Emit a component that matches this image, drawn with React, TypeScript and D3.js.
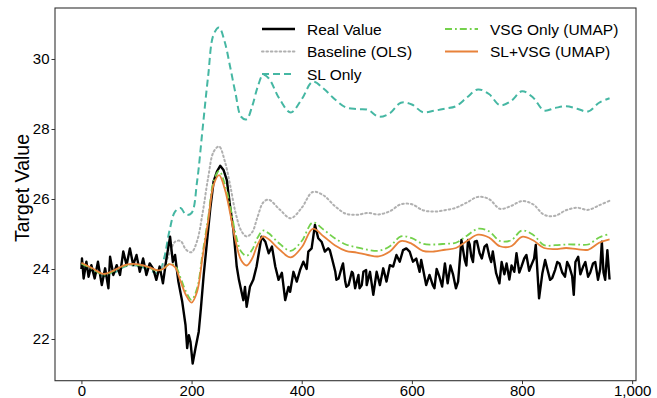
import React, { useEffect, useRef } from "react";
import * as d3 from "d3";

// smooth model outputs at these x positions
const gridX = [0, 20, 40, 60, 80, 100, 120, 140, 150, 160, 170, 180, 190, 200, 210, 220, 230, 240, 250, 260, 270, 280, 290, 300, 310, 320, 330, 340, 360, 380, 400, 420, 440, 460, 480, 500, 520, 540, 560, 580, 600, 620, 640, 660, 680, 700, 720, 740, 760, 780, 800, 820, 840, 860, 880, 900, 920, 940, 959];

const olsY = [24.15, 24.0, 23.85, 23.96, 24.1, 24.12, 24.05, 23.97, 24.1, 24.45, 24.78, 24.8, 24.55, 24.48, 24.8, 25.6, 26.6, 27.35, 27.5, 27.1, 26.4, 25.6, 25.1, 24.93, 25.05, 25.5, 25.9, 25.98, 25.7, 25.45, 25.75, 26.2, 26.1, 25.8, 25.58, 25.55, 25.6, 25.56, 25.65, 25.85, 25.85, 25.68, 25.64, 25.68, 25.75, 25.9, 26.06, 26.0, 25.72, 25.8, 25.94, 25.85, 25.55, 25.52, 25.68, 25.75, 25.69, 25.82, 25.95];

const slY = [24.12, 23.95, 23.8, 23.9, 24.08, 24.1, 24.0, 23.88, 24.3, 25.1, 25.64, 25.74, 25.55, 25.6, 26.5, 28.0, 29.5, 30.7, 30.9, 30.5, 29.78, 29.0, 28.35, 28.28, 28.65, 29.2, 29.55, 29.45, 28.85, 28.47, 28.85, 29.35, 29.15, 28.85, 28.62, 28.57, 28.55, 28.35, 28.45, 28.75, 28.7, 28.48, 28.52, 28.58, 28.65, 28.9, 29.13, 29.0, 28.68, 28.8, 29.08, 28.9, 28.53, 28.6, 28.65, 28.58, 28.5, 28.75, 28.88];

const vsgY = [24.15, 24.0, 23.84, 23.95, 24.1, 24.12, 24.05, 23.95, 24.02, 24.15, 24.1, 23.75, 23.35, 23.12, 23.45, 24.45, 25.45, 26.5, 26.8, 26.45, 25.8, 25.0, 24.5, 24.38, 24.55, 24.9, 25.1, 25.02, 24.72, 24.52, 24.8, 25.33, 25.12, 24.88, 24.7, 24.62, 24.55, 24.52, 24.65, 24.93, 24.88, 24.72, 24.7, 24.72, 24.75, 24.95, 25.15, 25.08, 24.8, 24.82, 25.1, 24.98, 24.68, 24.68, 24.7, 24.7, 24.7, 24.9, 25.0];

const slVsgY = [24.18, 24.02, 23.86, 23.97, 24.12, 24.14, 24.07, 23.96, 24.02, 24.14, 24.05, 23.65, 23.25, 23.04, 23.35, 24.35, 25.35, 26.4, 26.68, 26.3, 25.6, 24.8, 24.25, 24.1, 24.3, 24.7, 24.93, 24.85, 24.55, 24.33, 24.62, 25.15, 24.93, 24.68, 24.52, 24.47, 24.4, 24.36, 24.5, 24.8, 24.72, 24.52, 24.5, 24.55, 24.6, 24.8, 24.98, 24.9, 24.65, 24.65, 24.92, 24.82, 24.6, 24.57, 24.6, 24.57, 24.55, 24.75, 24.85];

// observed values (noisy)
const realX = [0, 1, 4, 9, 13, 18, 24, 30, 37, 43, 49, 52, 58, 64, 70, 76, 82, 88, 94, 100, 106, 112, 118, 124, 130, 136, 142, 148, 154, 158, 161, 166, 170, 176, 183, 189, 192, 195, 198, 202, 207, 213, 217, 222, 228, 234, 240, 246, 252, 258, 264, 270, 276, 282, 286, 290, 294, 297, 300, 306, 312, 318, 322, 327, 334, 340, 346, 352, 358, 364, 370, 376, 379, 385, 391, 397, 403, 409, 412, 418, 424, 430, 436, 442, 448, 451, 455, 461, 463, 467, 473, 475, 479, 481, 485, 491, 493, 497, 503, 505, 509, 512, 517, 518, 524, 530, 536, 542, 548, 554, 560, 566, 572, 578, 584, 590, 596, 599, 602, 608, 614, 617, 620, 626, 632, 638, 641, 645, 650, 655, 660, 665, 670, 675, 680, 684, 690, 696, 699, 702, 705, 708, 711, 714, 718, 723, 727, 732, 736, 741, 744, 747, 753, 759, 763, 768, 772, 777, 781, 786, 790, 795, 799, 804, 808, 813, 817, 822, 825, 831, 837, 842, 846, 851, 855, 860, 864, 868, 873, 878, 882, 886, 891, 894, 897, 902, 906, 911, 915, 920, 924, 929, 933, 938, 942, 945, 948, 951, 955, 959];
const realY = [24.0, 24.3, 23.73, 24.21, 23.78, 24.11, 23.73, 24.21, 23.54, 24.02, 23.45, 24.35, 23.83, 24.11, 23.83, 24.5, 24.11, 24.59, 24.11, 24.4, 23.92, 24.3, 23.83, 24.16, 24.02, 23.69, 24.07, 23.59, 24.26, 24.64, 24.92, 24.2, 24.4, 23.64, 23.07, 22.4, 21.74, 22.11, 21.92, 21.3, 21.73, 22.21, 22.89, 23.83, 24.78, 25.73, 26.5, 26.78, 26.95, 26.83, 26.54, 25.78, 25.11, 24.07, 23.69, 23.4, 23.11, 23.49, 22.92, 23.49, 23.69, 24.07, 24.45, 24.92, 24.78, 24.45, 24.64, 24.07, 23.69, 23.89, 23.11, 23.49, 23.35, 23.92, 23.64, 23.97, 24.21, 24.0, 24.5, 24.59, 25.26, 24.88, 24.78, 24.5, 24.59, 24.54, 24.3, 23.92, 23.69, 23.73, 24.07, 24.16, 23.64, 23.49, 23.54, 23.92, 23.88, 23.45, 23.83, 23.45, 23.54, 23.92, 23.97, 23.54, 23.92, 23.26, 23.92, 23.54, 24.02, 23.64, 24.11, 24.07, 24.4, 24.21, 24.54, 24.59, 24.5, 24.35, 24.21, 24.3, 23.92, 24.26, 24.02, 23.54, 23.83, 23.54, 23.45, 24.0, 23.78, 23.5, 24.16, 23.59, 24.1, 23.83, 23.45, 23.64, 24.83, 24.26, 24.1, 24.83, 24.7, 24.35, 24.2, 24.78, 24.8, 24.45, 24.3, 24.64, 24.7, 24.35, 24.2, 24.5, 23.88, 23.59, 24.2, 23.85, 24.16, 23.7, 24.1, 23.92, 24.45, 23.9, 24.07, 24.3, 24.4, 23.95, 24.11, 24.3, 24.69, 23.16, 23.88, 24.26, 24.0, 23.69, 23.75, 23.97, 24.2, 24.16, 23.9, 23.78, 24.2, 24.07, 23.8, 23.26, 24.2, 24.35, 23.85, 24.07, 24.2, 23.78, 23.9, 24.16, 24.2, 23.69, 24.0, 24.78, 23.9, 23.69, 24.54, 23.7, 24.1];

const xTicks = [0, 200, 400, 600, 800, 1000];
const yTicks = [22, 24, 26, 28, 30];

const W = 657;
const H = 398;
const margin = { top: 8, right: 21, bottom: 17.3, left: 55 };
const FONT = "'Liberation Sans', Arial, Helvetica, sans-serif";

export default function App() {
  const ref = useRef<SVGSVGElement>(null);

  useEffect(() => {
    const svg = d3.select(ref.current);
    svg.selectAll("*").remove();

    const x = d3.scaleLinear().domain([-48, 1007]).range([margin.left, W - margin.right]);
    const y = d3.scaleLinear().domain([20.809, 31.457]).range([H - margin.bottom, margin.top]);

    const series = [
      { label: "Real Value", xs: realX, ys: realY, color: "#000000", width: 2.4, dash: null as string | null, curve: d3.curveLinear },
      { label: "Baseline (OLS)", xs: gridX, ys: olsY, color: "#b0b0b0", width: 2, dash: "1.6,2.8", curve: d3.curveCatmullRom },
      { label: "SL Only", xs: gridX, ys: slY, color: "#45b7a3", width: 2, dash: "7,4", curve: d3.curveCatmullRom },
      { label: "VSG Only (UMAP)", xs: gridX, ys: vsgY, color: "#74d14c", width: 1.8, dash: "7,3,1.8,3", curve: d3.curveCatmullRom },
      { label: "SL+VSG (UMAP)", xs: gridX, ys: slVsgY, color: "#e8823a", width: 1.8, dash: null, curve: d3.curveCatmullRom },
    ];

    const plot = svg.append("g");
    // draw order: teal, gray, black, green, orange
    const order = [2, 1, 0, 3, 4];
    order.forEach((i) => {
      const s = series[i];
      const line = d3
        .line<number>()
        .x((d, k) => x(s.xs[k]))
        .y((d) => y(d))
        .curve(s.curve);
      plot
        .append("path")
        .attr("d", line(s.ys))
        .attr("fill", "none")
        .attr("stroke", s.color)
        .attr("stroke-width", s.width)
        .attr("stroke-linejoin", "round")
        .attr("stroke-linecap", s.dash === "1.6,2.8" ? "round" : "butt")
        .attr("stroke-dasharray", s.dash);
    });

    // axes
    const xAxis = svg
      .append("g")
      .attr("transform", `translate(0,${H - margin.bottom})`)
      .call(d3.axisBottom(x).tickValues(xTicks).tickSize(3.5).tickSizeOuter(0).tickPadding(1));
    const yAxis = svg
      .append("g")
      .attr("transform", `translate(${margin.left},0)`)
      .call(d3.axisLeft(y).tickValues(yTicks).tickSize(3.5).tickSizeOuter(0).tickPadding(2));
    [xAxis, yAxis].forEach((a) => {
      a.select(".domain").remove();
      a.selectAll("line").attr("stroke", "#333").attr("stroke-width", 1);
      a.selectAll("text").attr("fill", "#000").style("font-family", FONT).style("font-size", "15px");
    });

    // frame
    svg
      .append("rect")
      .attr("x", margin.left)
      .attr("y", margin.top)
      .attr("width", W - margin.left - margin.right)
      .attr("height", H - margin.top - margin.bottom)
      .attr("fill", "none")
      .attr("stroke", "#333")
      .attr("stroke-width", 1.1);

    svg
      .append("text")
      .attr("transform", `translate(22,188) rotate(-90)`)
      .attr("text-anchor", "middle")
      .attr("dominant-baseline", "central")
      .style("font-family", FONT)
      .style("font-size", "19.5px")
      .text("Target Value");

    // legend, two columns
    const legendPos = [
      [262, 29],
      [262, 51.5],
      [262, 74],
      [445, 29],
      [445, 51.5],
    ];
    const leg = svg.append("g");
    series.forEach((s, i) => {
      const [lx, ly] = legendPos[i];
      leg
        .append("line")
        .attr("x1", lx)
        .attr("x2", lx + 33)
        .attr("y1", ly)
        .attr("y2", ly)
        .attr("stroke", s.color)
        .attr("stroke-width", s.width)
        .attr("stroke-linecap", s.dash === "1.6,2.8" ? "round" : "butt")
        .attr("stroke-dasharray", s.dash);
      leg
        .append("text")
        .attr("x", lx + 45)
        .attr("y", ly)
        .attr("dominant-baseline", "central")
        .style("font-family", FONT)
        .style("font-size", "15.5px")
        .text(s.label);
    });
  }, []);

  return (
    <svg
      ref={ref}
      width={W}
      height={H}
      style={{ position: "absolute", left: 0, top: 0, background: "#fff" }}
    />
  );
}
